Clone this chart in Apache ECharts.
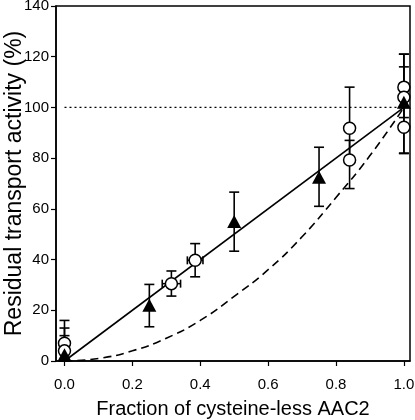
<!DOCTYPE html>
<html><head><meta charset="utf-8">
<script src="https://cdn.jsdelivr.net/npm/echarts@6/dist/echarts.min.js"></script>
<style>html,body{margin:0;padding:0;background:#fff}#c{width:415px;height:420px}</style>
</head><body><div id="c"></div>
<script>
// tick labels
var xTicks = [0, 0.2, 0.4, 0.6, 0.8, 1.0];
// filled triangles
var triX = [0, 0.25, 0.5, 0.75, 1.0];
var triY = [2.5, 22, 55, 72.5, 102];
var triLo = [0, 13.5, 43.3, 61, 82];
var triHi = [10, 30.2, 66.6, 84.3, 121];
// open circles
var cirX = [0, 0, 0.315, 0.385, 0.84, 0.84, 1.0, 1.0, 1.0];
var cirY = [7, 4, 30.5, 39.7, 91.8, 79.3, 108, 104, 92.2];
var cirLo = [0, 0, 25.6, 33.2, 80, 68, 100, 96, 81.8];
var cirHi = [16, 13, 35.5, 46.3, 108, 87, 121, 116, 100];
var cirXErr = [0, 0, 0.027, 0.023, 0.008, 0.008, 0, 0, 0];
// lines
var linX = [0, 1];
var linY = [0, 100];
var dashX = [0, 0.1, 0.2, 0.3, 0.4, 0.5, 0.6, 0.7, 0.8, 0.9, 1.0];
var dashY = [0, 1, 4, 9, 16, 25.5, 36, 49, 64.5, 81, 100];
var refX = [0, 1];
var refY = [100, 100];

function zip(a, b) { return a.map(function (v, i) { return [v, b[i]]; }); }
var errData = [];
triX.forEach(function (x, i) { errData.push([x, triY[i], triLo[i], triHi[i], 0]); });
cirX.forEach(function (x, i) { errData.push([x, cirY[i], cirLo[i], cirHi[i], cirXErr[i]]); });

function renderErr(params, api) {
  var x = api.value(0), y = api.value(1), lo = api.value(2), hi = api.value(3), xe = api.value(4);
  var pLo = api.coord([x, lo]), pHi = api.coord([x, hi]), pc = api.coord([x, y]);
  var cw = 5;
  var st = { stroke: '#000', lineWidth: 1.6 };
  var ch = [
    { type: 'line', shape: { x1: pLo[0], y1: pLo[1], x2: pHi[0], y2: pHi[1] }, style: st },
    { type: 'line', shape: { x1: pLo[0] - cw, y1: pLo[1], x2: pLo[0] + cw, y2: pLo[1] }, style: st },
    { type: 'line', shape: { x1: pHi[0] - cw, y1: pHi[1], x2: pHi[0] + cw, y2: pHi[1] }, style: st }
  ];
  if (xe > 0) {
    var pL = api.coord([x - xe, y]), pR = api.coord([x + xe, y]);
    ch.push({ type: 'line', shape: { x1: pL[0], y1: pc[1], x2: pR[0], y2: pc[1] }, style: st });
    ch.push({ type: 'line', shape: { x1: pL[0], y1: pc[1] - 4, x2: pL[0], y2: pc[1] + 4 }, style: st });
    ch.push({ type: 'line', shape: { x1: pR[0], y1: pc[1] - 4, x2: pR[0], y2: pc[1] + 4 }, style: st });
  }
  return { type: 'group', children: ch };
}

var chart = echarts.init(document.getElementById('c'), null, { renderer: 'canvas' });
var font = 'Liberation Sans, Arial, sans-serif';
chart.setOption({
  animation: false,
  grid: { left: 56, right: 5, top: 6, bottom: 59, containLabel: false, outerBoundsMode: 'none',
    show: true, borderColor: '#000', borderWidth: 1.5, backgroundColor: 'transparent' },
  xAxis: {
    type: 'value', min: -0.025, max: 1.018,
    name: 'Fraction of cysteine-less AAC2', nameLocation: 'middle', nameGap: 38, nameMoveOverlap: false,
    nameTextStyle: { fontSize: 20, color: '#000', fontFamily: font },
    axisLine: { show: true, onZero: false, lineStyle: { color: '#000', width: 1.5 } },
    axisTick: { show: true, length: 5, lineStyle: { color: '#000', width: 1.2 }, customValues: xTicks },
    axisLabel: { fontSize: 15, color: '#000', fontFamily: font, margin: 16, customValues: xTicks,
      formatter: function (v) { return v.toFixed(1); } },
    splitLine: { show: false }
  },
  yAxis: {
    type: 'value', min: 0, max: 140, interval: 20,
    name: 'Residual transport activity (%)', nameLocation: 'middle', nameGap: 30, nameMoveOverlap: false,
    nameTextStyle: { fontSize: 23, color: '#000', fontFamily: font },
    axisLine: { show: true, onZero: false, lineStyle: { color: '#000', width: 1.5 } },
    axisTick: { show: true, length: 5, lineStyle: { color: '#000', width: 1.2 } },
    axisLabel: { fontSize: 15, color: '#000', fontFamily: font, margin: 7 },
    splitLine: { show: false }
  },
  series: [
    { type: 'line', data: zip(refX, refY), symbol: 'none', lineStyle: { color: '#000', width: 1.3, type: [2, 3] }, z: 1 },
    { type: 'line', data: zip(dashX, dashY), smooth: true, symbol: 'none', lineStyle: { color: '#000', width: 1.6, type: [8, 5] }, z: 1 },
    { type: 'line', data: zip(linX, linY), symbol: 'none', lineStyle: { color: '#000', width: 1.6 }, z: 1 },
    { type: 'custom', renderItem: renderErr, data: errData, z: 2, clip: false },
    { type: 'scatter', data: zip(cirX, cirY), symbol: 'circle', symbolSize: 12,
      itemStyle: { color: '#fff', borderColor: '#000', borderWidth: 1.5, opacity: 1 }, z: 3 },
    { type: 'scatter', data: zip(triX, triY), symbol: 'triangle', symbolSize: [14, 13],
      itemStyle: { color: '#000', opacity: 1 }, z: 4 }
  ]
});
</script></body></html>
